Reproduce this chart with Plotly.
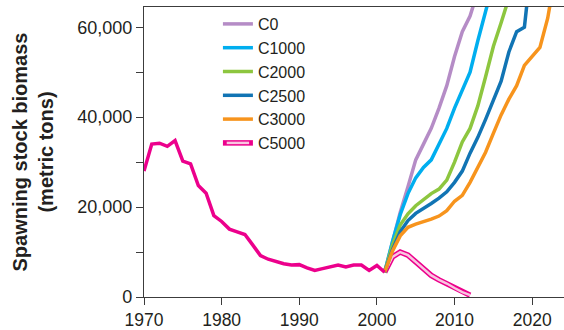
import plotly.graph_objects as go

# Historical spawning stock biomass (1970-2001)
hist_years = list(range(1970, 2002))
hist_values = [28000, 34000, 34200, 33500, 34800, 30200, 29600, 24800, 23100, 18100,
               16800, 15100, 14500, 13900, 11600, 9200, 8400, 7800, 7400, 7100,
               7200, 6500, 5900, 6300, 6700, 7100, 6700, 7100, 7100, 5900,
               7000, 5500]

# Projections (2001 onward)
c0_years = list(range(2001, 2014))
c0_values = [5500, 12500, 18800, 24500, 30500, 34000, 37500, 42000, 47000, 53500, 59000, 62500, 68000]

c1000_years = list(range(2001, 2016))
c1000_values = [5500, 12300, 18300, 23000, 26500, 28800, 30500, 34000, 37500, 42000, 46000, 50000,
                57000, 63000, 70000]

c2000_years = list(range(2001, 2019))
c2000_values = [5500, 11500, 16000, 18500, 20300, 21600, 23000, 24000, 26000, 30000, 34500, 37500,
                42500, 49000, 55700, 61000, 66000, 72000]

c2500_years = list(range(2001, 2021))
c2500_values = [5500, 10500, 14500, 17000, 18600, 19600, 20800, 22000, 23400, 25500, 28000, 32000,
                35500, 39500, 43800, 48000, 54500, 59000, 60000, 76000]

c3000_years = list(range(2001, 2024))
c3000_values = [5500, 10200, 13600, 15500, 16200, 16700, 17300, 18000, 19200, 21300, 22600, 25500,
                29000, 32200, 36400, 40500, 44000, 47000, 51500, 53500, 55500, 62000, 72000]

c5000_years = list(range(2001, 2013))
c5000_values = [5500, 8900, 10000, 9300, 7800, 6400, 4800, 3800, 3000, 2000, 1100, 400]

y_tickvals = [0, 10000, 20000, 30000, 40000, 50000, 60000]
y_ticktext = ["0", "", "20,000", "", "40,000", "", "60,000"]
x_tickvals = [1970, 1980, 1990, 2000, 2010, 2020]

PINK = "#EC008C"
LIGHT_PINK = "#F9C6E0"
FONT = "Liberation Sans, Arial, sans-serif"

fig = go.Figure()

series = [
    ("C0", c0_years, c0_values, "#B58CC6"),
    ("C1000", c1000_years, c1000_values, "#00AEEF"),
    ("C2000", c2000_years, c2000_values, "#8DC63F"),
    ("C2500", c2500_years, c2500_values, "#1174B4"),
    ("C3000", c3000_years, c3000_values, "#F7941D"),
]

# C5000 outlined line (outer pink, inner light pink)
fig.add_trace(go.Scatter(x=c5000_years, y=c5000_values, mode="lines",
                         line=dict(color=PINK, width=5.5), showlegend=False,
                         hoverinfo="skip"))
fig.add_trace(go.Scatter(x=c5000_years, y=c5000_values, mode="lines",
                         line=dict(color=LIGHT_PINK, width=2.5), showlegend=False,
                         name="C5000"))

for name, xs, ys, col in series:
    fig.add_trace(go.Scatter(x=xs, y=ys, mode="lines", name=name,
                             line=dict(color=col, width=3.5)))

# legend entry for C5000 (outlined swatch)
fig.add_trace(go.Scatter(x=[None], y=[None], mode="lines+markers", name="C5000",
                         line=dict(color=PINK, width=5.5),
                         marker=dict(symbol="line-ew", size=16, color=LIGHT_PINK,
                                     line=dict(color=LIGHT_PINK, width=2.5))))

# historical
fig.add_trace(go.Scatter(x=hist_years, y=hist_values, mode="lines",
                         line=dict(color=PINK, width=3.5), showlegend=False,
                         name="Historical"))

fig.update_layout(
    width=564, height=330,
    margin=dict(l=144, r=0, t=7, b=33),
    paper_bgcolor="white", plot_bgcolor="white",
    font=dict(family=FONT, color="#231F20", size=17),
    showlegend=True,
    legend=dict(x=0.176, y=1.0, xanchor="left", yanchor="top",
                bgcolor="rgba(0,0,0,0)", borderwidth=0,
                font=dict(size=16, family=FONT, color="#231F20")),
)

fig.update_xaxes(range=[1970, 2024.1], tickvals=x_tickvals, ticks="outside", ticklen=7,
                 tickwidth=1.3, tickcolor="#3C3C3C", showline=True, linecolor="#3C3C3C",
                 linewidth=1.3, mirror=True, showgrid=False, zeroline=False,
                 tickfont=dict(size=17.5, family=FONT))
fig.update_yaxes(range=[0, 64500], tickvals=y_tickvals, ticktext=y_ticktext,
                 ticks="outside", ticklen=7, tickwidth=1.3, tickcolor="#3C3C3C",
                 showline=True, linecolor="#3C3C3C", linewidth=1.3, showgrid=False,
                 zeroline=False, tickfont=dict(size=18, family=FONT),
                 title=dict(text="<b>Spawning stock biomass</b><br><b>(metric tons)</b>",
                            font=dict(size=20, family=FONT), standoff=18))

fig.write_html("out.html", config={"displayModeBar": False},
               post_script="document.body.style.margin='0';document.body.style.padding='0';")
